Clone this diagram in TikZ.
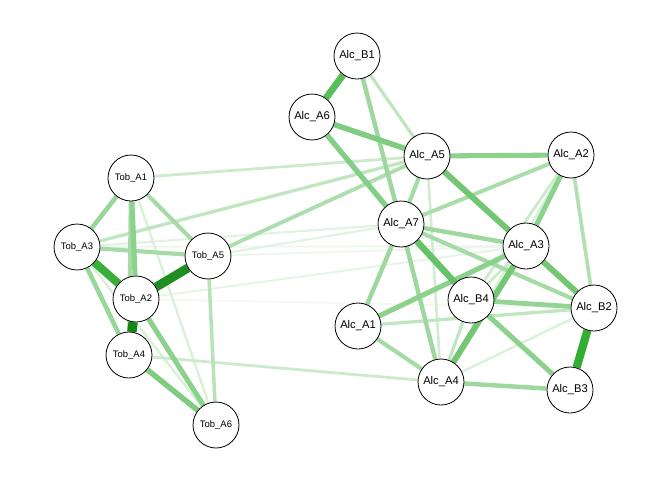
\documentclass[tikz,border=0pt]{standalone}
\usepackage{fontspec}
\setmainfont{Liberation Sans}
\usetikzlibrary{backgrounds}
\definecolor{qg}{RGB}{0,153,0}
\definecolor{qgd}{RGB}{0,125,0}
\tikzset{
  vnode/.style={circle, draw=black, line width=0.6pt, fill=white, minimum size=34.5pt, inner sep=0pt},
  alc/.style={vnode, font=\fontsize{8.4}{9}\selectfont},
  tob/.style={vnode, font=\fontsize{7.1}{8}\selectfont},
}
\newcommand\E[3]{\draw[line width=0.75pt+0.0675pt*#3, draw=qg!#3!white] (#1) -- (#2);}
\newcommand\ED[3]{\draw[line width=0.75pt+0.0675pt*#3, draw=qgd!#3!white] (#1) -- (#2);}
\begin{document}
\begin{tikzpicture}[x=0.75pt, y=-0.75pt]
\useasboundingbox (0,0) rectangle (672,480);
% nodes
\node[tob] (TA1) at (131,178) {Tob\_A1};
\node[tob] (TA3) at (77,247) {Tob\_A3};
\node[tob] (TA5) at (208,256) {Tob\_A5};
\node[tob] (TA2) at (136,299) {Tob\_A2};
\node[tob] (TA4) at (129,355) {Tob\_A4};
\node[tob] (TA6) at (216,425) {Tob\_A6};
\node[alc] (AB1) at (357,56) {Alc\_B1};
\node[alc] (AA6) at (312,117) {Alc\_A6};
\node[alc] (AA5) at (427,156) {Alc\_A5};
\node[alc] (AA2) at (571,155) {Alc\_A2};
\node[alc] (AA7) at (401,224) {Alc\_A7};
\node[alc] (AA3) at (526,246) {Alc\_A3};
\node[alc] (AB4) at (471,300) {Alc\_B4};
\node[alc] (AB2) at (594,308) {Alc\_B2};
\node[alc] (AA1) at (358,326) {Alc\_A1};
\node[alc] (AA4) at (441,382) {Alc\_A4};
\node[alc] (AB3) at (570,390) {Alc\_B3};
\begin{pgfonlayer}{background}
% faint
\E{TA2}{AB2}{6}
\E{TA5}{AA3}{8}
\E{TA3}{AA3}{8}
\E{TA2}{AA3}{10}
\E{TA3}{AA7}{12}
\E{TA5}{AA7}{12}
\E{TA1}{TA6}{15}
\E{TA3}{TA6}{15}
\E{AA2}{AA4}{15}
\E{AB2}{AA4}{15}
\E{AA5}{AA4}{18}
\E{TA1}{AA5}{20}
\E{TA4}{AA4}{20}
\E{AA2}{AB4}{20}
\E{AA3}{AB4}{20}
\E{TA3}{AA5}{25}
\E{AB1}{AA5}{25}
\E{AB4}{AA4}{25}
\E{AB2}{AA1}{25}
\E{TA5}{TA6}{28}
\E{AA2}{AB2}{30}
\E{TA5}{AA5}{32}
\E{AA2}{AA7}{33}
% medium
\E{TA1}{TA4}{35}
\E{TA1}{TA5}{35}
\E{TA3}{TA5}{35}
\E{AA5}{AA7}{35}
\E{AA7}{AB2}{35}
\E{AA1}{AA4}{35}
\E{AB1}{AA7}{38}
\E{AA7}{AA3}{38}
\E{AA7}{AA1}{38}
\E{AA7}{AA4}{38}
\E{AA4}{AB3}{38}
\E{TA1}{TA3}{40}
\E{TA3}{TA4}{40}
\E{AB4}{AB2}{42}
\E{TA1}{TA2}{45}
\E{TA2}{TA6}{45}
\E{AA5}{AA2}{45}
\E{AA2}{AA3}{45}
\E{AA3}{AA1}{45}
\E{AB4}{AB3}{45}
\E{AA6}{AA7}{48}
\E{TA4}{TA6}{50}
\E{AA6}{AA5}{50}
\E{AA5}{AA3}{55}
\E{AA3}{AB2}{55}
\E{AA3}{AA4}{55}
\E{AA7}{AB4}{60}
\E{AB1}{AA6}{65}
% strong
\E{TA2}{TA3}{78}
\E{AB2}{AB3}{80}
\ED{TA2}{TA5}{88}
\ED{TA2}{TA4}{92}
\end{pgfonlayer}
\end{tikzpicture}
\end{document}
